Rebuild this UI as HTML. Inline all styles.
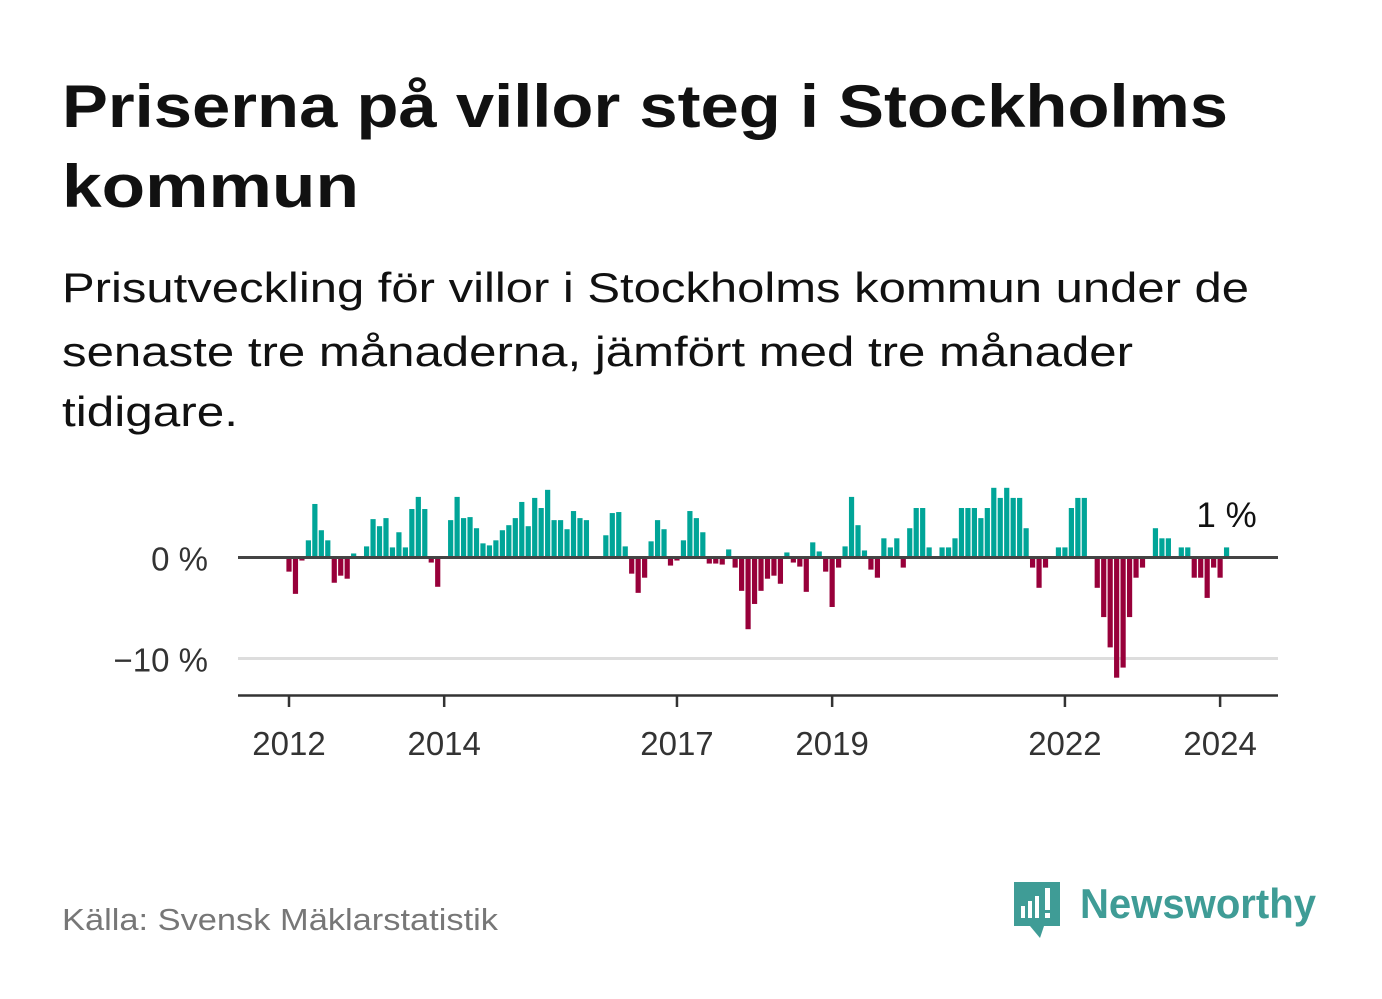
<!DOCTYPE html>
<html><head><meta charset="utf-8"><style>
html,body{margin:0;padding:0;background:#fff;}
svg{display:block;font-family:"Liberation Sans",sans-serif;}
</style></head><body>
<svg id="chart" width="1382" height="999" viewBox="0 0 1382 999" xmlns="http://www.w3.org/2000/svg">
<text x="62" y="127" font-size="60" font-weight="bold" fill="#111" textLength="1166" lengthAdjust="spacingAndGlyphs">Priserna på villor steg i Stockholms</text>
<text x="62" y="207" font-size="60" font-weight="bold" fill="#111" textLength="297" lengthAdjust="spacingAndGlyphs">kommun</text>
<text x="62" y="302" font-size="42" fill="#111" textLength="1187" lengthAdjust="spacingAndGlyphs">Prisutveckling för villor i Stockholms kommun under de</text>
<text x="62" y="366" font-size="42" fill="#111" textLength="1071" lengthAdjust="spacingAndGlyphs">senaste tre månaderna, jämfört med tre månader</text>
<text x="62" y="426" font-size="42" fill="#111" textLength="176" lengthAdjust="spacingAndGlyphs">tidigare.</text>
<g id="plot"></g>
<text x="62" y="930" font-size="31" fill="#777" textLength="436" lengthAdjust="spacingAndGlyphs">Källa: Svensk Mäklarstatistik</text>
<g>
<path d="M1014 882 h46 v44 h-16 l-4 12 l-10 -12 h-16 z" fill="#3f9c96"/>
<rect x="1021" y="906" width="4" height="12" fill="#fff"/>
<rect x="1028" y="901" width="4" height="17" fill="#fff"/>
<rect x="1035" y="896" width="4" height="22" fill="#fff"/>
<rect x="1045" y="888" width="5" height="22" fill="#fff"/>
<rect x="1045" y="913" width="5" height="5" fill="#fff"/>
<text x="1080" y="918" font-size="42" font-weight="bold" fill="#3f9c96" textLength="236" lengthAdjust="spacingAndGlyphs">Newsworthy</text>
</g>
</svg>
<script>
const values = [-1.4,-3.6,-0.3,1.7,5.3,2.7,1.7,-2.5,-1.8,-2.1,0.4,0,
1.1,3.8,3.1,3.9,1.0,2.5,1.0,4.8,6.0,4.8,-0.5,-2.9,
0,3.7,6.0,3.9,4.0,2.9,1.4,1.2,1.7,2.7,3.2,3.9,
5.5,3.1,5.9,4.9,6.7,3.7,3.7,2.8,4.6,3.9,3.7,0,
0,2.2,4.4,4.5,1.1,-1.6,-3.5,-2.0,1.6,3.7,2.8,-0.8,
-0.3,1.7,4.6,3.9,2.5,-0.6,-0.6,-0.7,0.8,-1.0,-3.3,-7.1,
-4.6,-3.3,-2.1,-1.8,-2.6,0.5,-0.5,-0.9,-3.4,1.5,0.6,-1.4,
-4.9,-1.0,1.1,6.0,3.2,0.7,-1.2,-2.0,1.9,1.0,1.9,-1.0,
2.9,4.9,4.9,1.0,0,1.0,1.0,1.9,4.9,4.9,4.9,3.9,
4.9,6.9,5.9,6.9,5.9,5.9,2.9,-1.0,-3.0,-1.0,0,1.0,
1.0,4.9,5.9,5.9,0,-3.0,-5.9,-8.9,-11.9,-10.9,-5.9,-2.0,
-1.0,0,2.9,1.9,1.9,0,1.0,1.0,-2.0,-2.0,-4.0,-1.0,
-2.0,1.0];
const tickYears = ["2012","2014","2017","2019","2022","2024"];
const tickIdx = [0,24,60,84,120,144];
const yTicks = [0,-10];
const yTickLabels = ["0 %","\u221210 %"];
const lastLabel = "1 %";

const NS="http://www.w3.org/2000/svg";
const g=document.getElementById('plot');
const x0=289, step=6.466;
const xs=i=>x0+i*step;
const ys=v=>557.5-v*10.1;
function mk(tag,attrs,parent){const e=document.createElementNS(NS,tag);for(const k in attrs)e.setAttribute(k,attrs[k]);(parent||g).appendChild(e);return e;}
// grid
yTicks.forEach((t,k)=>{
  if(t!==0){const l=mk('line',{x1:238,x2:1278,y1:ys(t),y2:ys(t),stroke:'#ddd','stroke-width':3});
  
  }
  const tx=mk('text',{x:208,y:ys(t)+13,'text-anchor':'end','font-size':33,fill:'#333'});
  tx.textContent=yTickLabels[k];
  
  
});
values.forEach((v,i)=>{
  if(v===0)return;
  const y=v>0?ys(v):ys(0);
  const r=mk('rect',{x:xs(i)-2.6,y:y,width:5.2,height:Math.abs(ys(v)-ys(0)),fill:v>0?'#00a598':'#98003a'});
  
  
});
const zl=mk('line',{x1:238,x2:1278,y1:ys(0),y2:ys(0),stroke:'#444','stroke-width':3});


const ax=mk('line',{x1:238,x2:1278,y1:695.5,y2:695.5,stroke:'#333','stroke-width':2.5});


tickIdx.forEach((ti,k)=>{
  const t=mk('line',{x1:xs(ti),x2:xs(ti),y1:695,y2:707,stroke:'#333','stroke-width':2.5});
  
  
  const tx=mk('text',{x:xs(ti),y:755,'text-anchor':'middle','font-size':33,fill:'#333'});
  tx.textContent=tickYears[k];
  
  
});
const li=values.length-1;
const lb=mk('text',{x:xs(li),y:527,'text-anchor':'middle','font-size':35,fill:'#111'});
lb.textContent=lastLabel;


</script>
</body></html>
